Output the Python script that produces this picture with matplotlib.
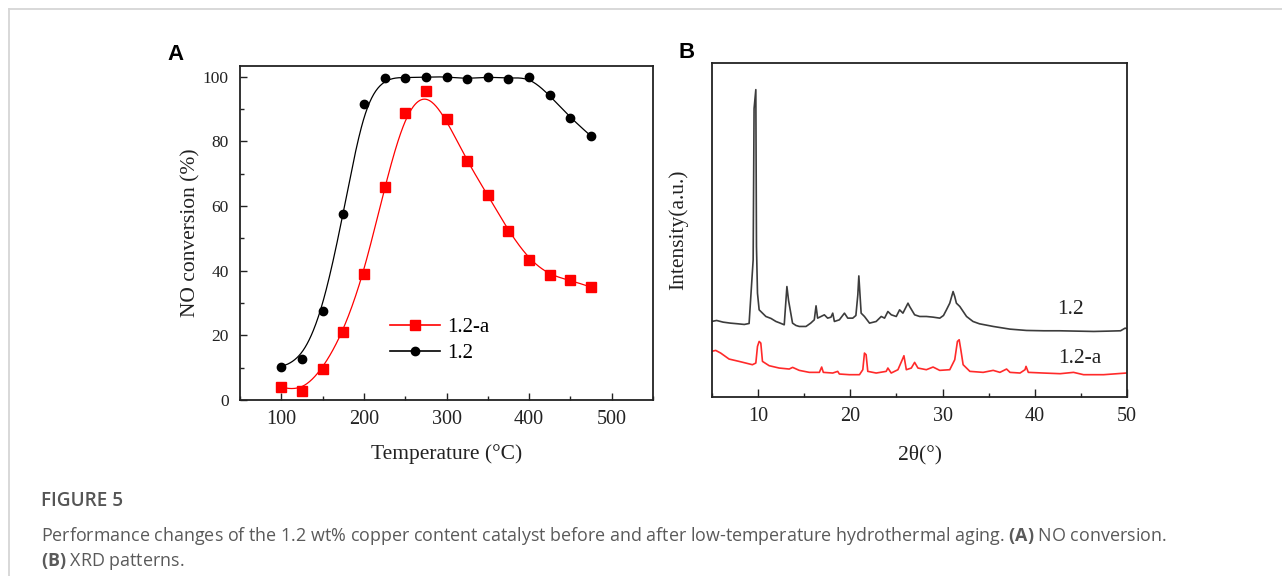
import numpy as np
import matplotlib
matplotlib.use('Agg')
import matplotlib.pyplot as plt
from matplotlib.lines import Line2D
from matplotlib.ticker import MultipleLocator

plt.rcParams['mathtext.fontset'] = 'custom'
plt.rcParams['mathtext.bf'] = 'Open Sans:bold'
plt.rcParams['mathtext.rm'] = 'Open Sans'

SERIF = 'Liberation Serif'

# (A) NO conversion vs temperature
temperature = [100, 125, 150, 175, 200, 225, 250, 275, 300, 325, 350, 375, 400, 425, 450, 475]
conv_fresh = [10.3, 12.8, 27.5, 57.4, 91.4, 99.7, 99.7, 99.9, 100.0, 99.3, 100.0, 99.4, 100.0, 94.2, 87.3, 81.6]
conv_aged = [3.9, 2.9, 9.5, 21.0, 39.1, 65.8, 88.9, 95.6, 86.8, 73.8, 63.3, 52.3, 43.4, 38.6, 37.0, 34.9]

# (B) XRD patterns, intensity in arbitrary units
tt_fresh = [4.96, 5.5, 6.2, 7.0, 7.8, 8.5, 9.02, 9.46, 9.56, 9.75, 9.82, 9.93, 10.11, 10.84,
            11.4, 11.93, 12.4, 12.83, 13.12, 13.3, 13.73, 14.1, 14.46, 15.19, 15.7, 16.09, 16.28,
            16.45, 16.82, 17.18, 17.54, 17.9, 18.09, 18.27, 18.81, 19.36, 19.72, 20.26, 20.6, 20.81,
            20.92, 21.17, 21.53, 22.08, 22.8, 23.35, 23.71, 24.07, 24.44, 24.98, 25.34, 25.7,
            26.25, 26.43, 26.97, 27.52, 28.25, 28.97, 29.7, 30.1, 30.42, 30.78, 31.14, 31.32,
            31.5, 31.87, 32.6, 33.3, 34.0, 35.5, 37.3, 39.1, 41.0, 42.7, 44.5, 46.4, 48.0, 49.3, 49.8, 50.0]
int_fresh = [227, 230, 225, 222, 220, 218, 221, 412, 867, 924, 452, 312, 262, 242,
             236, 227, 222, 217, 332, 290, 222, 215, 212, 212, 222, 232, 274,
             237, 242, 247, 237, 240, 252, 227, 232, 252, 237, 237, 245, 307,
             364, 252, 242, 222, 227, 242, 237, 257, 247, 242, 262, 252,
             282, 272, 247, 242, 242, 240, 237, 245, 262, 282, 317, 302,
             282, 272, 242, 227, 220, 212, 204, 200, 199, 199, 198, 197, 198, 199, 207, 205]
tt_aged = [4.92, 5.4, 5.94, 6.85, 7.93, 8.66, 9.38, 9.75, 9.93, 10.11, 10.29, 10.47, 11.2,
           12.28, 13.37, 13.74, 14.46, 15.55, 16.64, 16.89, 17.07, 18.09, 18.63, 18.81, 19.9,
           20.99, 21.35, 21.53, 21.71, 21.89, 22.8, 23.89, 24.07, 24.43, 25.16, 25.63, 25.81,
           26.07, 26.61, 26.97, 27.33, 28.24, 28.97, 29.69, 30.78, 31.32, 31.61, 31.8, 31.98,
           32.23, 32.96, 34.4, 35.49, 36.22, 36.94, 37.31, 38.4, 38.94, 39.05, 39.3, 40.93,
           42.75, 44.2, 45.29, 47.46, 49.93]
int_aged = [137, 140, 132, 114, 107, 102, 97, 102, 152, 167, 162, 107, 94,
            87, 84, 89, 80, 74, 74, 90, 74, 72, 77, 69, 67,
            67, 82, 132, 127, 77, 72, 77, 87, 72, 82, 112, 124,
            82, 87, 104, 87, 82, 90, 80, 82, 112, 167, 172, 142,
            97, 77, 74, 80, 74, 84, 74, 72, 82, 92, 74, 72,
            70, 74, 67, 67, 72]


def bspline(xs, ys, n=40):
    # uniform cubic B-spline with the points as control polygon (Origin style)
    px = np.r_[[xs[0]] * 2, xs, [xs[-1]] * 2].astype(float)
    py = np.r_[[ys[0]] * 2, ys, [ys[-1]] * 2].astype(float)
    t = np.linspace(0, 1, n, endpoint=False)
    b0 = (1 - t) ** 3 / 6
    b1 = (3 * t ** 3 - 6 * t ** 2 + 4) / 6
    b2 = (-3 * t ** 3 + 3 * t ** 2 + 3 * t + 1) / 6
    b3 = t ** 3 / 6
    ox, oy = [], []
    for i in range(len(px) - 3):
        ox.append(b0 * px[i] + b1 * px[i + 1] + b2 * px[i + 2] + b3 * px[i + 3])
        oy.append(b0 * py[i] + b1 * py[i + 1] + b2 * py[i + 2] + b3 * py[i + 3])
    ox.append([xs[-1]])
    oy.append([ys[-1]])
    return np.concatenate(ox), np.concatenate(oy)


fig = plt.figure(figsize=(12.82, 5.76), dpi=100)

# ---- panel A ----
ax1 = fig.add_axes([0.1872, 0.3056, 0.3222, 0.5798])
sx, sy = bspline(temperature, conv_aged)
ax1.plot(sx, sy, color='#ff0000', lw=0.9)
ax1.plot(temperature, conv_aged, 's', color='#ff0000', ms=6.5)
fx, fy = bspline(temperature, conv_fresh)
ax1.plot(fx, fy, color='black', lw=0.9)
ax1.plot(temperature, conv_fresh, 'o', color='black', ms=6)

h_aged = Line2D([], [], color='#ff0000', lw=1.2, marker='s', ms=6.5)
h_fresh = Line2D([], [], color='black', lw=1.2, marker='o', ms=6)
ax1.legend([h_aged, h_fresh], ['1.2-a', '1.2'], loc='center left',
           bbox_to_anchor=(0.363, 0.178), frameon=False, borderpad=0, borderaxespad=0,
           handlelength=2.4, handletextpad=0.35, labelspacing=0.3,
           prop={'family': SERIF, 'size': 15})

ax1.set_xlim(50, 550)
ax1.set_ylim(0, 103.3)
ax1.xaxis.set_major_locator(MultipleLocator(100))
ax1.xaxis.set_minor_locator(MultipleLocator(50))
ax1.yaxis.set_major_locator(MultipleLocator(20))
ax1.yaxis.set_minor_locator(MultipleLocator(10))
ax1.tick_params(which='both', direction='in', top=False, right=False, color='#222222')
ax1.tick_params(which='major', length=5, width=1)
ax1.tick_params(which='minor', length=3, width=1)
ax1.tick_params(axis='x', labelsize=14.5, pad=7)
ax1.tick_params(axis='y', labelsize=12.5, pad=8)
for lab in ax1.get_xticklabels() + ax1.get_yticklabels():
    lab.set_family(SERIF)
    lab.set_color('#222222')
ax1.set_xlabel('Temperature (°C)', family=SERIF, fontsize=15.5, labelpad=11, color='#222222')
ax1.set_ylabel('NO conversion (%)', family=SERIF, fontsize=15.5, labelpad=1.5, color='#222222')
for s in ax1.spines.values():
    s.set_linewidth(1.3)
    s.set_color('#222222')

# ---- panel B ----
ax2 = fig.add_axes([0.5554, 0.3108, 0.3237, 0.5798])
ax2.plot(tt_fresh, int_fresh, color='#3c3c3c', lw=1.2)
ax2.plot(tt_aged, int_aged, color='#ff2a2a', lw=1.2)
ax2.text(43.9, 262, '1.2', family=SERIF, fontsize=15.5, ha='center', va='center', color='#222222')
ax2.text(44.9, 117, '1.2-a', family=SERIF, fontsize=15.5, ha='center', va='center', color='#222222')
ax2.set_xlim(5, 50)
ax2.set_ylim(0, 1004)
ax2.xaxis.set_major_locator(MultipleLocator(10))
ax2.xaxis.set_minor_locator(MultipleLocator(5))
ax2.set_yticks([])
ax2.tick_params(which='both', direction='in', color='#222222')
ax2.tick_params(which='major', length=6, width=1)
ax2.tick_params(which='minor', length=3, width=1)
ax2.tick_params(axis='x', labelsize=14.5, pad=7)
for lab in ax2.get_xticklabels():
    lab.set_family(SERIF)
    lab.set_color('#222222')
ax2.set_xlabel('2θ(°)', family=SERIF, fontsize=15.5, labelpad=14, color='#222222')
ax2.set_ylabel('Intensity(a.u.)', family=SERIF, fontsize=15.5, labelpad=17, color='#222222')
for s in ax2.spines.values():
    s.set_linewidth(1.3)
    s.set_color('#222222')

# panel letters
fig.text(176 / 1282, 1 - 55 / 576, 'A', family='Liberation Sans', weight='bold', fontsize=16,
         ha='center', va='center')
fig.text(687 / 1282, 1 - 52 / 576, 'B', family='Liberation Sans', weight='bold', fontsize=16,
         ha='center', va='center')

# frame lines of the page
fig.add_artist(Line2D([9 / 1282, 1], [1 - 9 / 576] * 2, color='#d6d6d6', lw=1.3))
fig.add_artist(Line2D([9 / 1282] * 2, [0, 1 - 9 / 576], color='#d6d6d6', lw=1.3))

# caption
fig.text(41 / 1282, 1 - 501 / 576, 'FIGURE 5', family='Open Sans', weight='semibold',
         fontsize=13.7, color='#555555', va='center')
fig.text(41 / 1282, 1 - 536 / 576,
         r'Performance changes of the 1.2 wt% copper content catalyst before and after '
         r'low-temperature hydrothermal aging. $\mathbf{(A)}$ NO conversion.',
         family='Open Sans', fontsize=12.85, color='#5a5a5a', va='center')
fig.text(41 / 1282, 1 - 561 / 576, r'$\mathbf{(B)}$ XRD patterns.',
         family='Open Sans', fontsize=12.85, color='#5a5a5a', va='center')

fig.savefig('out.png', dpi=100)
